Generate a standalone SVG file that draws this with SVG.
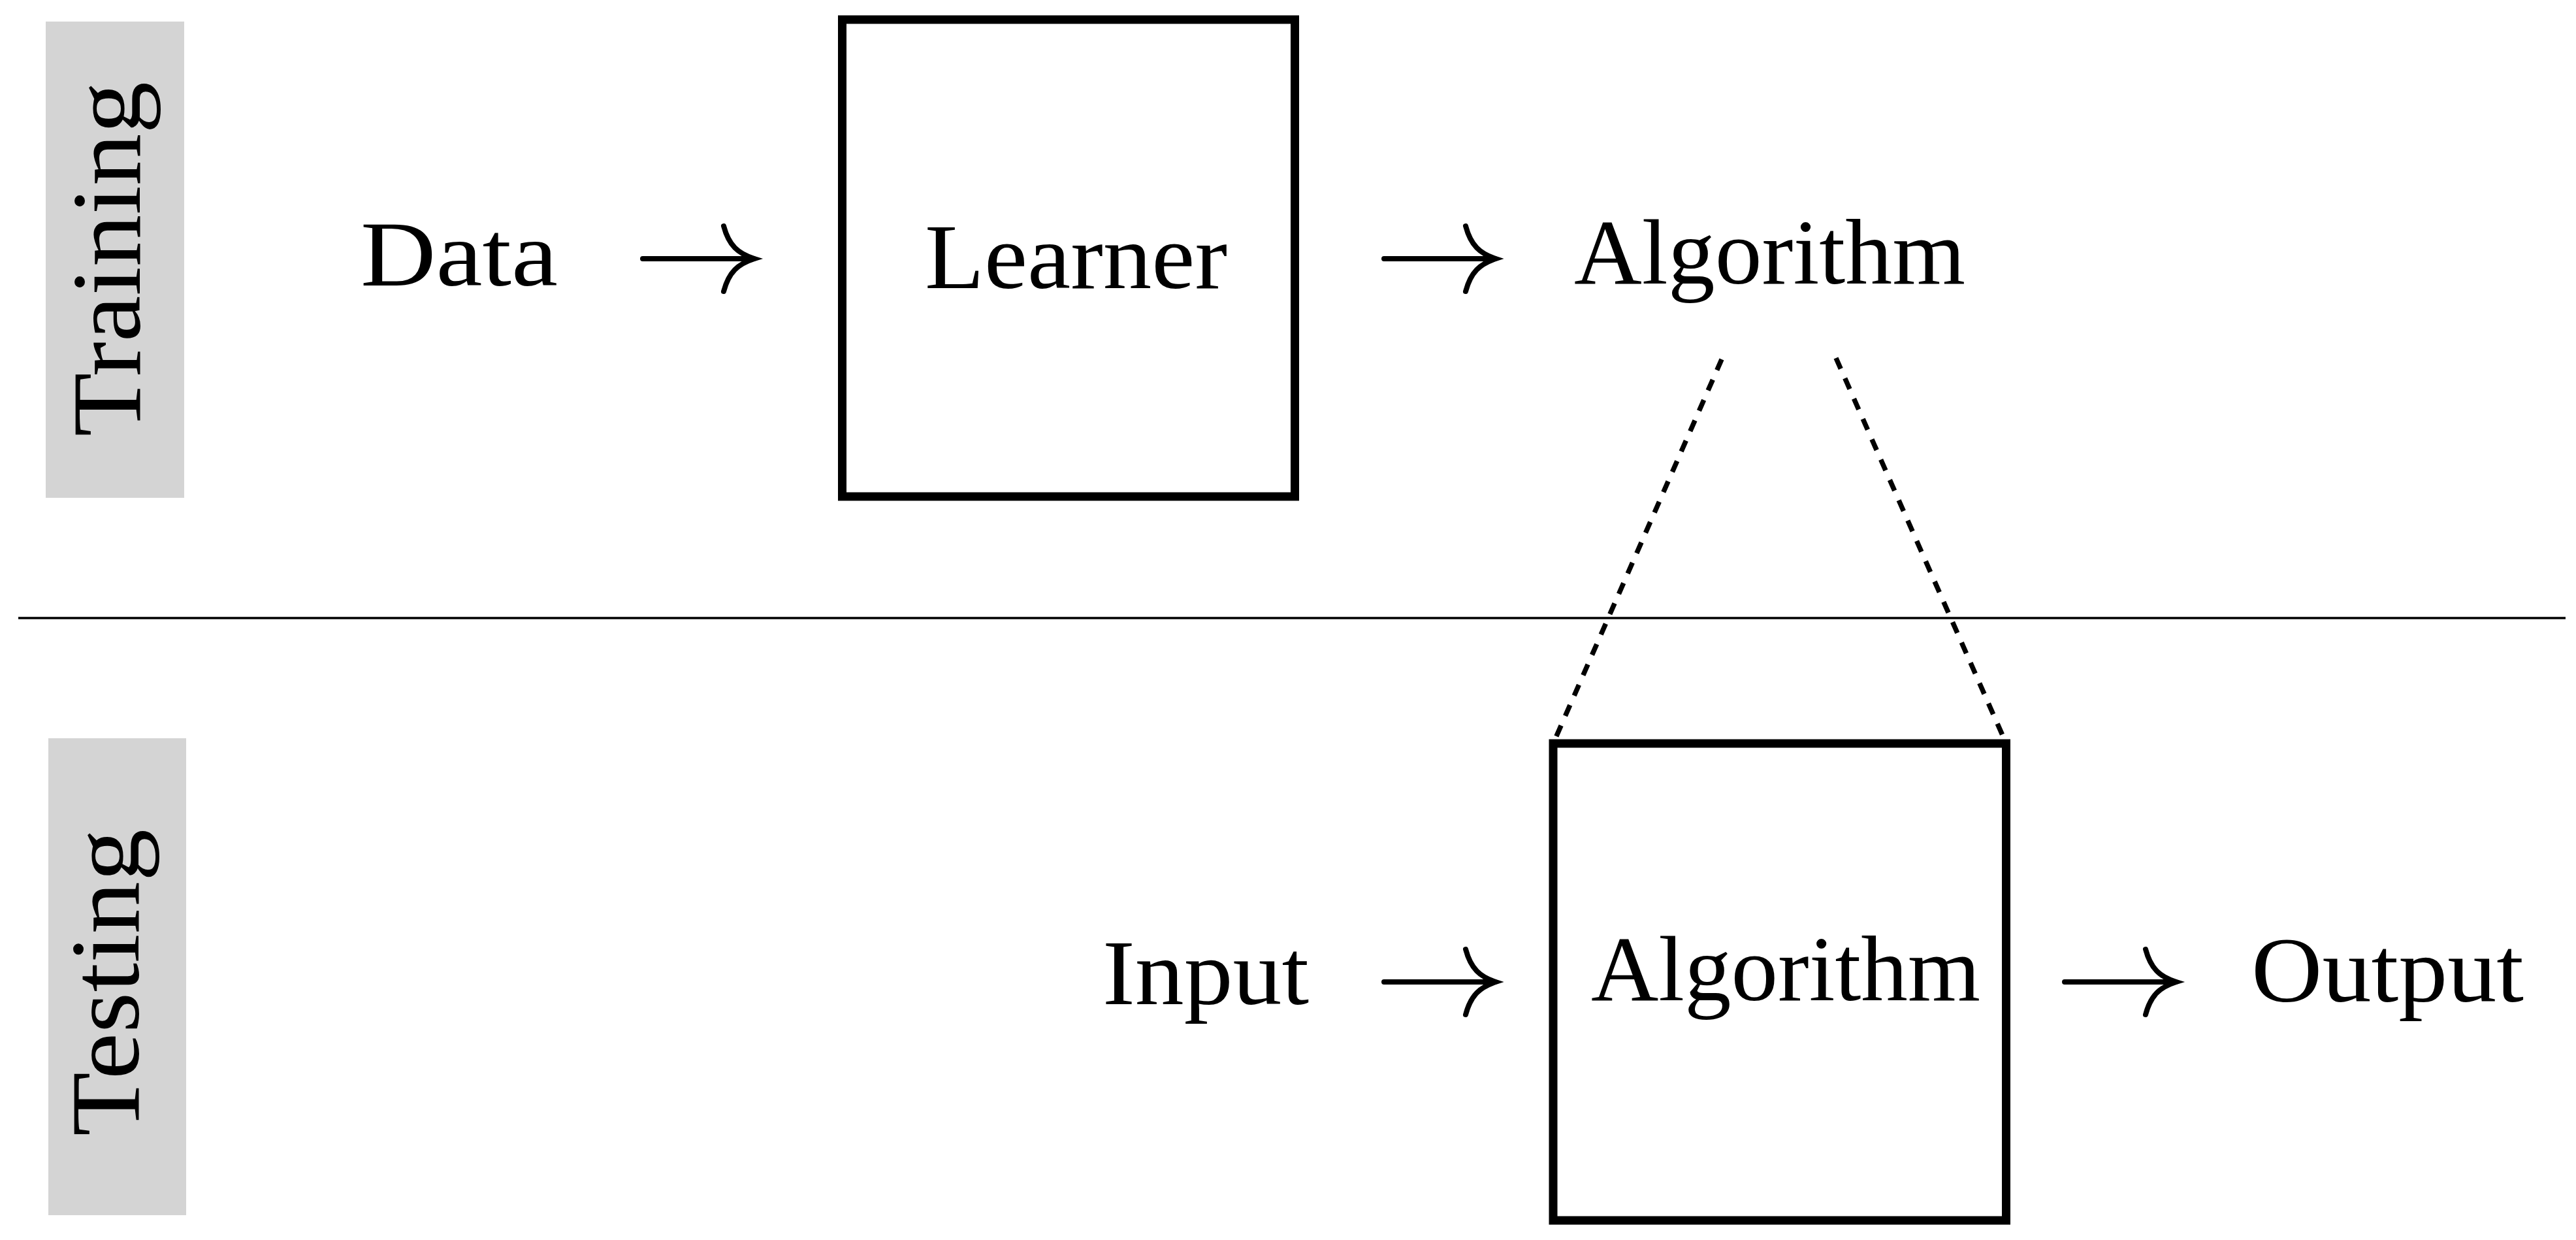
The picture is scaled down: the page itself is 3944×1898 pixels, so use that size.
<svg xmlns="http://www.w3.org/2000/svg" width="3944" height="1898" viewBox="0 0 3944 1898">
<defs>
<style>
.lbl{font-family:"Liberation Serif","DejaVu Serif",serif;font-size:142px;fill:#000}
.side{font-family:"Liberation Serif","DejaVu Serif",serif;font-size:150px;fill:#000}
.box{fill:none;stroke:#000;stroke-width:13}
.band{fill:#d4d4d4}
.arrow{fill:none;stroke:#000;stroke-width:8;stroke-linecap:round}
.dash{fill:none;stroke:#000;stroke-width:7.5;stroke-dasharray:18 16}
.rule{stroke:#000;stroke-width:3.5}
</style>
</defs>
<rect width="3944" height="1898" fill="#fff"/>
<g id="training-label">
<rect class="band" x="70" y="33" width="212" height="729"/>
<text class="side" transform="translate(214,668) rotate(-90)" textLength="543" lengthAdjust="spacingAndGlyphs">Training</text>
</g>
<g id="testing-label">
<rect class="band" x="74" y="1130" width="211" height="730"/>
<text class="side" transform="translate(212,1739) rotate(-90)" textLength="470" lengthAdjust="spacingAndGlyphs">Testing</text>
</g>
<g id="divider">
<line class="rule" x1="28" y1="946" x2="3928" y2="946"/>
</g>
<g id="data">
<text class="lbl" x="552" y="437" textLength="302" lengthAdjust="spacingAndGlyphs">Data</text>
</g>
<g id="learner">
<rect class="box" x="1289.5" y="30" width="693" height="730"/>
<text class="lbl" x="1416" y="441" textLength="463" lengthAdjust="spacingAndGlyphs">Learner</text>
</g>
<g id="algorithm-out">
<text class="lbl" x="2410" y="434" textLength="599" lengthAdjust="spacingAndGlyphs">Algorithm</text>
</g>
<g id="input">
<text class="lbl" x="1688" y="1537" textLength="316" lengthAdjust="spacingAndGlyphs">Input</text>
</g>
<g id="algorithm">
<rect class="box" x="2378" y="1138" width="693.5" height="730"/>
<text class="lbl" x="2436" y="1531" textLength="596" lengthAdjust="spacingAndGlyphs">Algorithm</text>
</g>
<g id="output">
<text class="lbl" x="3447" y="1533" textLength="417" lengthAdjust="spacingAndGlyphs">Output</text>
</g>
<g id="connectors">
<path class="arrow" d="M984 396 H1155 M1108 346 C1116 376 1130 388 1155 396 C1130 404 1116 416 1108 446"/>
<path class="arrow" d="M2119 396 H2290 M2244 346 C2252 376 2266 388 2290 396 C2266 404 2252 416 2244 446"/>
<path class="arrow" d="M2119 1503 H2290 M2244 1453 C2252 1483 2266 1495 2290 1503 C2266 1511 2252 1523 2244 1553"/>
<path class="arrow" d="M3161 1503 H3332 M3285 1453 C3293 1483 3307 1495 3332 1503 C3307 1511 3293 1523 3285 1553"/>
<line class="dash" x1="2636" y1="550" x2="2378" y2="1138"/>
<line class="dash" x1="2811" y1="548" x2="3071.5" y2="1138"/>
</g>
</svg>
